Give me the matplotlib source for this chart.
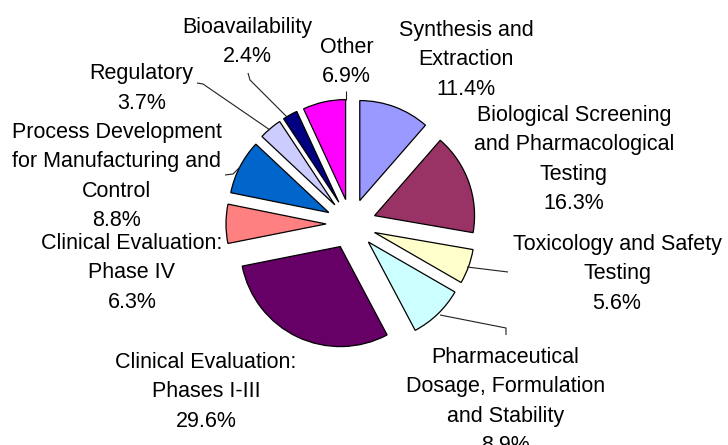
import matplotlib
matplotlib.use("Agg")
import matplotlib.pyplot as plt

# ---- data ----
categories = [
    "Synthesis and\nExtraction",
    "Biological Screening\nand Pharmacological\nTesting",
    "Toxicology and Safety\nTesting",
    "Pharmaceutical\nDosage, Formulation\nand Stability",
    "Clinical Evaluation:\nPhases I-III",
    "Clinical Evaluation:\nPhase IV",
    "Process Development\nfor Manufacturing and\nControl",
    "Regulatory",
    "Bioavailability",
    "Other",
]
shares = [11.4, 16.3, 5.6, 8.9, 29.6, 6.3, 8.8, 3.7, 2.4, 6.9]
colors = ["#9999FF", "#993366", "#FFFFCC", "#CCFFFF", "#660066",
          "#FF8080", "#0066CC", "#CCCCFF", "#000080", "#FF00FF"]

# ---- layout (pixel space of a 728x445 image) ----
W, H = 728, 445
CX, CY, R = 351, 224, 100          # pie centre / radius in pixels
label_pos = [                       # (x centre, y of first-line cap top)
    (466, 20), (574, 105), (617, 234), (505.5, 347), (206, 352),
    (132, 233), (117, 122), (141.5, 63.5), (247.5, 16.5), (346.5, 37),
]
leaders = {
    2: [(467, 267), (508, 272)],
    3: [(440, 315), (506, 328), (506, 335)],
    6: [(240, 167), (233, 174), (225, 175)],
    7: [(270, 130), (203, 84), (197, 83)],
    8: [(287, 117), (250, 80), (248, 73)],
    9: [(346, 100), (346, 91)],
}


def u(px):
    return (px - CX) / R


def v(py):
    return (CY - py) / R


plt.rcParams["font.family"] = ["Liberation Sans", "DejaVu Sans"]
fig = plt.figure(figsize=(W / 100, H / 100), dpi=100)
ax = fig.add_axes([0, 0, 1, 1])

ax.pie(shares, colors=colors, startangle=90, counterclock=False,
       explode=[0.25] * len(shares), radius=1, center=(0, 0),
       wedgeprops=dict(edgecolor="black", linewidth=0.9))

for i, (name, val) in enumerate(zip(categories, shares)):
    x, y = label_pos[i]
    ax.text(u(x), v(y), f"{name}\n{val:.1f}%", ha="center", va="top",
            multialignment="center", fontsize=15.5, linespacing=1.52,
            color="black")

for i, pts in leaders.items():
    ax.plot([u(p[0]) for p in pts], [v(p[1]) for p in pts],
            color="#202020", linewidth=0.8, solid_capstyle="butt")

ax.set_xlim(u(0), u(W))
ax.set_ylim(v(H), v(0))
ax.set_aspect("equal")
ax.axis("off")

fig.savefig("out.png", dpi=100, facecolor="white")
